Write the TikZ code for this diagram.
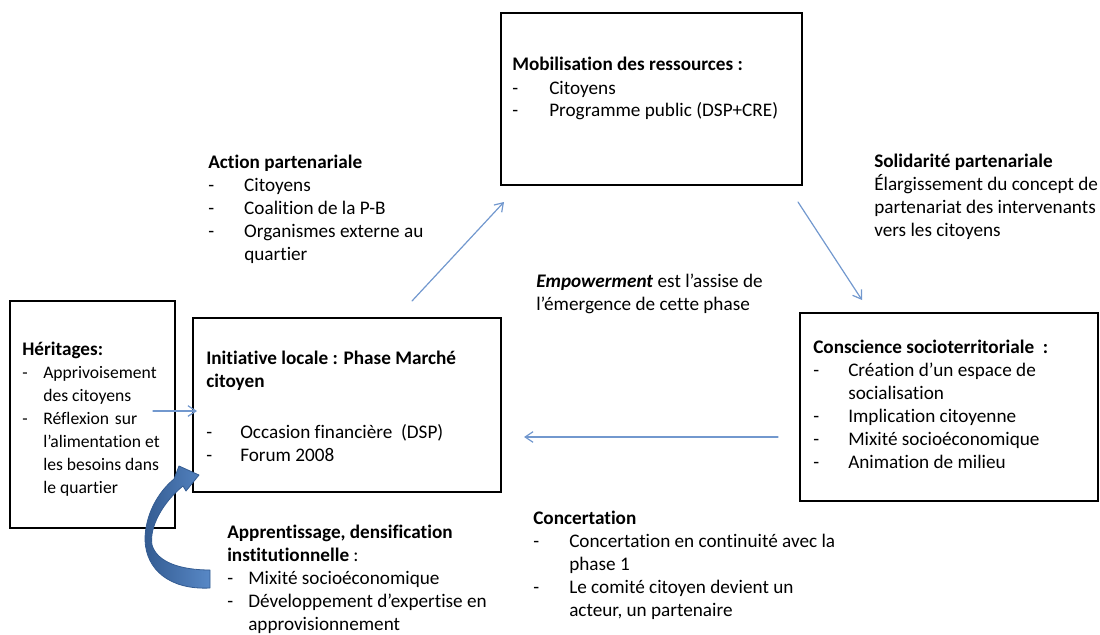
\documentclass[tikz,border=0pt]{standalone}
\usepackage{fontspec}
\setmainfont{Carlito}[Ligatures={TeX,NoCommon}]
\usetikzlibrary{arrows.meta}
\definecolor{bleuclair}{RGB}{114,152,206}
\definecolor{bleufonce}{RGB}{52,92,146}
\definecolor{bleumoyen}{RGB}{88,136,198}
\newdimen\pxu \pxu=0.75pt
\tikzset{
  boite/.style={rectangle,draw,line width=1.8pt,inner sep=0pt},
  bloc/.style={anchor=base west,inner sep=0pt,font=\fontsize{14.4}{17.25}\selectfont},
  fleche/.style={draw=bleuclair,line width=0.9pt,-{Straight Barb[length=6pt,width=8pt]}},
  every picture/.style={line cap=round}
}
\begin{document}
\begin{tikzpicture}[x=0.75pt,y=-0.75pt]
    \useasboundingbox (0,0) rectangle (1100,635);

    \node[boite,minimum width=301\pxu,minimum height=172\pxu] (mob) at (651.5,99) {};
    \node[boite,minimum width=165\pxu,minimum height=227\pxu] (her) at (92.5,414.5) {};
    \node[boite,minimum width=308\pxu,minimum height=174\pxu] (ini) at (347,405) {};
    \node[boite,minimum width=298\pxu,minimum height=188\pxu] (con) at (949,407) {};

    \node[bloc] (tmob) at (512,71) {\begin{tabular}[t]{@{}p{37\pxu}@{}l@{}}
      \multicolumn{2}{@{}l@{}}{\textbf{Mobilisation des ressources :}}\\
      - & Citoyens\\
      - & Programme public (DSP+CRE)
    \end{tabular}};
    \node[bloc] (tact) at (208,168) {\begin{tabular}[t]{@{}p{36\pxu}@{}l@{}}
      \multicolumn{2}{@{}l@{}}{\textbf{Action partenariale}}\\
      - & Citoyens\\
      - & Coalition de la P-B\\
      - & Organismes externe au\\
        & quartier
    \end{tabular}};
    \node[bloc] (tsol) at (874,167) {\begin{tabular}[t]{@{}l@{}}
      \textbf{Solidarité partenariale}\\
      Élargissement du concept de\\
      partenariat des intervenants\\
      vers les citoyens
    \end{tabular}};
    \node[bloc] (temp) at (536,287) {\begin{tabular}[t]{@{}l@{}}
      \textbf{\textit{Empowerment}} est l’assise de\\
      l’émergence de cette phase
    \end{tabular}};
    \node[bloc,font=\fontsize{13.2}{17.25}\selectfont] (ther) at (22,355) {\begin{tabular}[t]{@{}p{21\pxu}@{}l@{}}
      \multicolumn{2}{@{}l@{}}{\fontsize{14.4}{17.25}\selectfont\textbf{Héritages:}}\\
      - & Apprivoisement\\
        & des citoyens\\
      - & \makebox[94\pxu][s]{Réflexion sur}\\
        & l’alimentation et\\
        & les besoins dans\\
        & le quartier
    \end{tabular}};
    \node[bloc] (tini) at (206,364) {\begin{tabular}[t]{@{}p{34\pxu}@{}l@{}}
      \multicolumn{2}{@{}l@{}}{\textbf{Initiative locale : Phase Marché}}\\
      \multicolumn{2}{@{}l@{}}{\textbf{citoyen}}\\[4pt]
      \multicolumn{2}{@{}l@{}}{}\\
      - & Occasion financière~ (DSP)\\
      - & Forum 2008
    \end{tabular}};
    \node[bloc] (tcon) at (813,353) {\begin{tabular}[t]{@{}p{35\pxu}@{}l@{}}
      \multicolumn{2}{@{}l@{}}{\textbf{Conscience socioterritoriale~ :}}\\
      - & Création d’un espace de\\
        & socialisation\\
      - & Implication citoyenne\\
      - & Mixité socioéconomique\\
      - & Animation de milieu
    \end{tabular}};
    \node[bloc] (tapp) at (227,538) {\begin{tabular}[t]{@{}p{21\pxu}@{}l@{}}
      \multicolumn{2}{@{}l@{}}{\textbf{Apprentissage, densification}}\\
      \multicolumn{2}{@{}l@{}}{\textbf{institutionnelle} :}\\
      - & Mixité socioéconomique\\
      - & Développement d’expertise en\\
        & approvisionnement
    \end{tabular}};
    \node[bloc] (tcot) at (533,524) {\begin{tabular}[t]{@{}p{36\pxu}@{}l@{}}
      \multicolumn{2}{@{}l@{}}{\textbf{Concertation}}\\
      - & Concertation en continuité avec la\\
        & phase 1\\
      - & Le comité citoyen devient un\\
        & acteur, un partenaire
    \end{tabular}};

    \coordinate (a1s) at (412,301);
    \coordinate (a1e) at (504,202);
    \coordinate (a2s) at (798,202);
    \coordinate (a2e) at (862,300);
    \coordinate (a3s) at (778,437);
    \coordinate (a3e) at (524,437);
    \coordinate (a4s) at (153,411);
    \coordinate (a4e) at (197,411);
    \draw[fleche] (a1s) -- (a1e);
    \draw[fleche] (a2s) -- (a2e);
    \draw[fleche] (a3s) -- (a3e);
    \draw[fleche] (a4s) -- (a4e);

    \path[draw=bleufonce,line width=0.6pt,line join=round,left color=bleufonce,right color=bleumoyen]
      (210,588) .. controls (170,590) and (146,570) .. (145,540)
      .. controls (145,515) and (158,492) .. (174,479)
      -- (179,466) -- (199,475) -- (186,491) -- (183,486)
      .. controls (162,503) and (149,528) .. (152,545)
      .. controls (157,562) and (180,570) .. (210,570) -- cycle;
\end{tikzpicture}
\end{document}
